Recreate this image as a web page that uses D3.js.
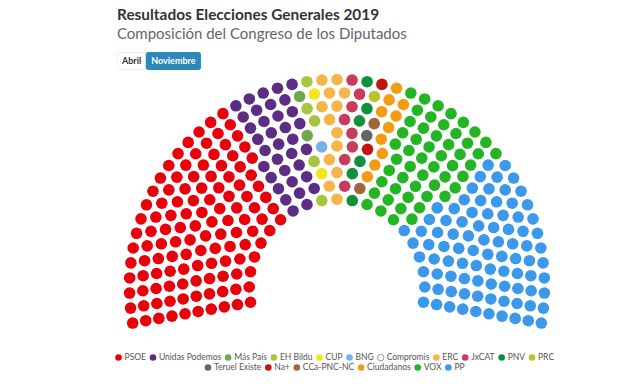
<!DOCTYPE html>
<html>
<head>
<meta charset="utf-8">
<script src="https://cdn.jsdelivr.net/npm/d3@7/dist/d3.min.js"></script>
<style>
  body { margin: 0; background: #fff; font-family: Lato, "Open Sans", sans-serif; }
  #chart svg { display: block; }
</style>
</head>
<body>
<div id="chart"></div>
<script>
// Seats in the Congreso, elecciones de noviembre 2019
var parties = ['PSOE', 'Unidas Podemos', 'Más País', 'EH Bildu', 'CUP', 'BNG', 'Compromis',
               'ERC', 'JxCAT', 'PNV', 'PRC', 'Teruel Existe', 'Na+', 'CCa-PNC-NC',
               'Ciudadanos', 'VOX', 'PP'];
var seats = [120, 35, 2, 5, 2, 1, 1, 13, 8, 6, 1, 1, 2, 2, 10, 52, 89];
var colors = ['#e8000b', '#5d2c85', '#6fa94c', '#a7c53d', '#f6e41c', '#79b2e3', '#ffffff',
              '#f6b549', '#c63d5c', '#11903a', '#bcc12e', '#666666', '#c1150e', '#a1653b',
              '#f39c13', '#24b525', '#3b98ea'];
var buttons = ['Abril', 'Noviembre'];

//**********************************************
var Hemicycle = (function(){

    var sizes = {width: 640, height: 384};
    var center = {x: 337, y: 287},
        diameter = 428,
        innerSize = 149,
        startAngle = -100,
        endAngle = 100,
        dotR = 5.8;

    var toRad = function(deg){ return (deg - 90) * Math.PI / 180; };

    var svg = d3.select('#chart')
                .append('svg')
                .attr('width', sizes.width)
                .attr('height', sizes.height);

    // Same idea as an item chart: grow the item size until the arcs hold
    // no more slots than seats, keep the last run that fit and trim it
    var getSlots = function(total){
        var startRad = toRad(startAngle),
            fullAngle = toRad(endAngle) - startRad,
            itemSize = 0, itemCount = Infinity, finalCount, rows, testRows;

        while (itemCount > total){
            finalCount = itemCount;
            itemCount = 0;
            rows = testRows;
            testRows = [];
            itemSize++;
            var rowCount = Math.floor(diameter / itemSize / 2 * (diameter - innerSize) / diameter);
            var radius = d3.scaleLinear()
                           .domain([0, rowCount])
                           .range([innerSize / 2, (diameter - itemSize) / 2]);
            for (var row = rowCount; row > 0; row--){
                var r = radius(row),
                    len = fullAngle * r,
                    cols = Math.ceil(len / itemSize);
                testRows.push({r: r, len: len, cols: cols});
                itemCount += cols + 1;
            }
        }

        var overshoot = finalCount - total;
        while (overshoot > 0){
            rows.map(function(row){ return {angle: row.cols / row.len, row: row}; })
                .sort(function(a, b){ return b.angle - a.angle; })
                .slice(0, Math.min(overshoot, Math.ceil(rows.length / 2)))
                .forEach(function(d){
                    if (overshoot > 0){ d.row.cols--; overshoot--; }
                });
        }

        var slots = [];
        rows.forEach(function(row){
            var angle = d3.scaleLinear().domain([0, row.cols]).range([startRad, startRad + fullAngle]);
            for (var c = 0; c <= row.cols; c++){
                var a = angle(c);
                slots.push({
                    x: center.x + Math.cos(a) * row.r,
                    y: center.y + Math.sin(a) * row.r,
                    angle: a
                });
            }
        });
        slots.sort(function(a, b){ return a.angle - b.angle; });
        return slots;
    };

    var draw = function(){
        // one entry per seat, in party order
        var items = [];
        seats.forEach(function(n, i){
            for (var k = 0; k < n; k++){ items.push(i); }
        });
        var slots = getSlots(items.length);

        svg.append('g')
           .selectAll('circle')
           .data(items)
           .enter()
           .append('circle')
           .attr('cx', function(d, i){ return slots[i].x; })
           .attr('cy', function(d, i){ return slots[i].y; })
           .attr('r', dotR)
           .style('fill', function(d){ return colors[d]; });
    };

    var titles = function(){
        svg.append('text')
           .attr('x', 117).attr('y', 20)
           .style('font-size', '15.4px').style('font-weight', 'bold').style('fill', '#333')
           .text('Resultados Elecciones Generales 2019');
        svg.append('text')
           .attr('x', 117).attr('y', 38.5)
           .style('font-size', '15px').style('fill', '#666')
           .text('Composición del Congreso de los Diputados');

        var bx = 117;
        buttons.forEach(function(b, i){
            var g = svg.append('g'),
                t = g.append('text')
                     .attr('y', 64)
                     .style('font-size', '9px').style('font-weight', 'bold')
                     .style('fill', i ? '#fff' : '#333')
                     .text(b),
                w = t.node().getComputedTextLength() + 10;
            g.insert('rect', 'text')
             .attr('x', bx).attr('y', 52.5).attr('width', w).attr('height', 17).attr('rx', 2)
             .style('fill', i ? '#2d87b9' : '#fff')
             .style('stroke', i ? '#2d87b9' : '#eeeeee');
            t.attr('x', bx + 5);
            bx += w;
        });
    };

    var legend = function(){
        var maxWidth = 460, gap = 7, rowsY = [357.5, 367.5],
            lg = svg.append('g').style('font-size', '8.5px');
        var entries = parties.map(function(p, i){
            var g = lg.append('g');
            g.append('circle').attr('r', 3.3)
             .style('fill', colors[i])
             .style('stroke', colors[i] === '#ffffff' ? '#999' : 'none');
            var t = g.append('text').attr('x', 6).attr('dy', '0.35em')
                     .style('fill', '#555').text(p);
            return {g: g, w: 6 + t.node().getComputedTextLength()};
        });
        var lines = [[]], lineW = [0];
        entries.forEach(function(e){
            var li = lines.length - 1,
                add = (lines[li].length ? gap : 0) + e.w;
            if (lineW[li] + add > maxWidth){
                lines.push([e]); lineW.push(e.w);
            } else {
                lines[li].push(e); lineW[li] += add;
            }
        });
        lines.forEach(function(line, li){
            var x = 333 - lineW[li] / 2 + 3.3;
            line.forEach(function(e){
                e.g.attr('transform', 'translate(' + x + ',' + rowsY[li] + ')');
                x += e.w + gap;
            });
        });
    };

    return {draw: draw, titles: titles, legend: legend};
}());

Hemicycle.titles();
Hemicycle.draw();
Hemicycle.legend();
</script>
</body>
</html>
